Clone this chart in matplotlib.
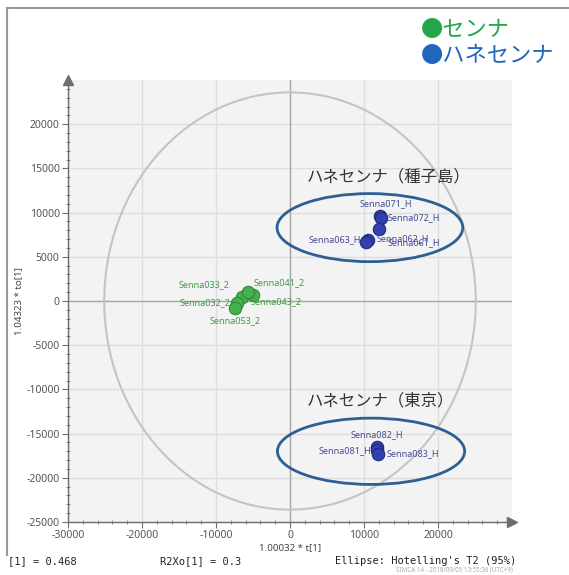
import matplotlib
matplotlib.use("Agg")
import matplotlib.pyplot as plt
from matplotlib.patches import Ellipse
from matplotlib.lines import Line2D
from matplotlib.ticker import MultipleLocator, FixedLocator

plt.rcParams['font.family'] = ['Noto Sans', 'Noto Sans CJK JP', 'DejaVu Sans']
plt.rcParams['axes.unicode_minus'] = False

# scores: senna (green)
senna_names = ['Senna033_2', 'Senna041_2', 'Senna032_2', 'Senna043_2', 'Senna053_2']
senna_t = [-6500, -5000, -7200, -5700, -7400]
senna_to = [450, 700, -200, 1000, -800]

# scores: hane-senna, Tanegashima
tane_names = ['Senna071_H', 'Senna072_H', 'Senna062_H', 'Senna061_H', 'Senna063_H']
tane_t = [12200, 12300, 12000, 10500, 10300]
tane_to = [9600, 9400, 8100, 6900, 6700]

# scores: hane-senna, Tokyo
tokyo_names = ['Senna082_H', 'Senna081_H', 'Senna083_H']
tokyo_t = [11800, 11800, 11900]
tokyo_to = [-16500, -16900, -17300]

x_ticks = [-30000, -20000, -10000, 0, 10000, 20000]
y_ticks = [-25000, -20000, -15000, -10000, -5000, 0, 5000, 10000, 15000, 20000]

# Hotelling T2 (95%) semi axes
t2_a, t2_b = 25100, 23600

# group outlines (center x, center y, width, height)
group_tane = (10800, 8300, 25100, 7700)
group_tokyo = (10950, -17000, 25300, 7500)

# label offsets in points and alignment
senna_off = [(-27, 9, 'center'), (19, 9, 'center'), (-23, 0, 'center'),
             (20, -7, 'center'), (0, -9, 'center')]
tane_off = [(4, 9, 'center'), (5, 0, 'left'), (-1.5, -6.5, 'left'),
            (14, -2, 'left'), (-4, 1.5, 'right')]
tokyo_off = [(0, 9, 'center'), (-4, 0, 'right'), (6, 0, 'left')]

fig = plt.figure(figsize=(5.69, 5.75), dpi=100)
fig.patch.set_facecolor('white')
ax = fig.add_axes([68 / 569, 53 / 575, 444 / 569, 442 / 575])
ax.set_facecolor('#f3f3f3')
ax.set_xlim(-30000, 30000)
ax.set_ylim(-25000, 25000)

ax.xaxis.set_major_locator(FixedLocator(x_ticks))
ax.yaxis.set_major_locator(FixedLocator(y_ticks))
ax.xaxis.set_minor_locator(MultipleLocator(2000))
ax.yaxis.set_minor_locator(MultipleLocator(1000))
ax.grid(True, which='major', color='#dedede', lw=1.0)
ax.set_axisbelow(True)
for s in ['top', 'right']:
    ax.spines[s].set_visible(False)
for s in ['left', 'bottom']:
    ax.spines[s].set_color('#6e6e6e')
    ax.spines[s].set_linewidth(1.0)
ax.tick_params(which='major', direction='out', length=4, color='#6e6e6e',
               labelsize=7.5, labelcolor='#555555', pad=2)
ax.tick_params(which='minor', direction='inout', length=3, color='#6e6e6e')
ax.plot(0, 1, marker='^', color='#6e6e6e', ms=7, transform=ax.transAxes, clip_on=False)
ax.plot(1, 0, marker='>', color='#6e6e6e', ms=7, transform=ax.transAxes, clip_on=False)

ax.axhline(0, color='#a8a8a8', lw=1.0, zorder=1)
ax.axvline(0, color='#a8a8a8', lw=1.0, zorder=1)

ax.add_patch(Ellipse((0, 0), 2 * t2_a, 2 * t2_b, fill=False, ec='#c4c4c4', lw=1.5, zorder=2))

ax.scatter(senna_t, senna_to, s=80, c='#45b04f', edgecolors='#2e8a36', lw=0.8, zorder=4)
ax.scatter(tane_t, tane_to, s=80, c='#3340b0', edgecolors='#1f2a80', lw=0.8, zorder=4)
ax.scatter(tokyo_t, tokyo_to, s=80, c='#3340b0', edgecolors='#1f2a80', lw=0.8, zorder=4)


def put_labels(names, xs, ys, offs, color):
    for n, x, y, (dx, dy, ha) in zip(names, xs, ys, offs):
        ax.annotate(n, (x, y), xytext=(dx, dy), textcoords='offset points',
                    ha=ha, va='center', fontsize=6.5, color=color, zorder=5)


put_labels(senna_names, senna_t, senna_to, senna_off, '#3f9a45')
put_labels(tane_names, tane_t, tane_to, tane_off, '#454a94')
put_labels(tokyo_names, tokyo_t, tokyo_to, tokyo_off, '#454a94')

for cx, cy, w, h in [group_tane, group_tokyo]:
    ax.add_patch(Ellipse((cx, cy), w, h, fill=False, ec='#2e5f92', lw=2.0, zorder=6))

ax.text(2200, 13500, 'ハネセンナ（種子島）', fontsize=11.8, color='#333333', zorder=6)
ax.text(2200, -11800, 'ハネセンナ（東京）', fontsize=11.8, color='#333333', zorder=6)

ax.set_xlabel('1.00032 * t[1]', fontsize=7, color='#444444', labelpad=1)
ax.set_ylabel('1.04323 * to[1]', fontsize=7, color='#444444', labelpad=2)

# legend
fig.text(421 / 569, 1 - 30 / 575, '●センナ', fontsize=16, color='#22a84a', va='center')
fig.text(421 / 569, 1 - 56 / 575, '●ハネセンナ', fontsize=16, color='#1f66bd', va='center')

# footer
mono = ['DejaVu Sans Mono']
fig.text(8 / 569, 1 - 561 / 575, '[1] = 0.468', family=mono, fontsize=7.5, color='#222222', va='center')
fig.text(160 / 569, 1 - 561 / 575, 'R2Xo[1] = 0.3', family=mono, fontsize=7.5, color='#222222', va='center')
fig.text(335 / 569, 1 - 561 / 575, "Ellipse: Hotelling's T2 (95%)", family=mono, fontsize=7.5,
         color='#222222', va='center')
fig.text(396 / 569, 1 - 570 / 575, 'SIMCA 14 - 2018/09/05 13:55:36 (UTC+9)', fontsize=4.5,
         color='#aaaaaa', va='center')

# outer frame
fig.add_artist(Line2D([7 / 569, 7 / 569], [1 - 8 / 575, 1 - 555 / 575], color='#999999', lw=1.5))
fig.add_artist(Line2D([7 / 569, 1], [1 - 8 / 575, 1 - 8 / 575], color='#999999', lw=1.5))

fig.savefig('out.png', dpi=100)
